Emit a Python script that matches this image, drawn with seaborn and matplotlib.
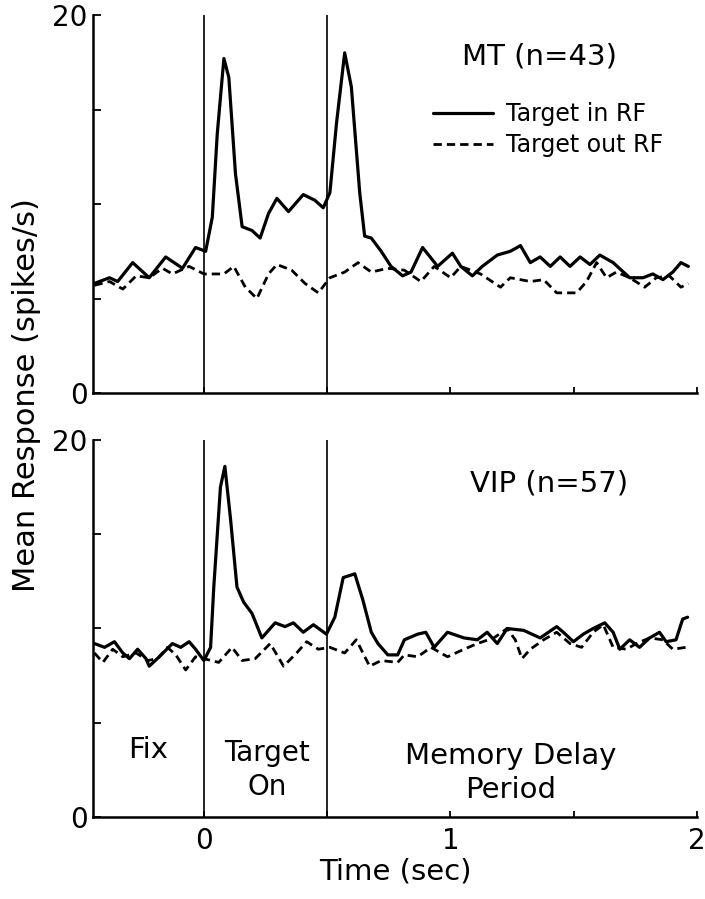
import matplotlib
matplotlib.use("Agg")
import matplotlib.pyplot as plt
import numpy as np
import pandas as pd
import seaborn as sns

# --- values (time in s, mean response in spikes/s) ---
mt_in_t = [-0.444, -0.383, -0.350, -0.289, -0.222, -0.155, -0.087, -0.034, 0.007, 0.034,
           0.054, 0.081, 0.101, 0.128, 0.155, 0.195, 0.228, 0.262, 0.296, 0.343,
           0.403, 0.450, 0.484, 0.511, 0.538, 0.571, 0.598, 0.632, 0.652, 0.679,
           0.719, 0.759, 0.806, 0.840, 0.887, 0.948, 1.008, 1.042, 1.089, 1.129,
           1.190, 1.243, 1.284, 1.324, 1.364, 1.405, 1.445, 1.485, 1.526, 1.566,
           1.606, 1.660, 1.727, 1.781, 1.821, 1.862, 1.902, 1.935, 1.965]
mt_in_v = [5.8, 6.1, 5.9, 6.9, 6.1, 7.2, 6.6, 7.7, 7.5, 9.3,
           13.7, 17.7, 16.7, 11.6, 8.8, 8.6, 8.2, 9.5, 10.3, 9.6,
           10.5, 10.2, 9.8, 10.6, 14.3, 18.0, 16.2, 10.6, 8.3, 8.2,
           7.5, 6.7, 6.2, 6.4, 7.7, 6.7, 7.4, 6.7, 6.2, 6.7,
           7.3, 7.5, 7.8, 6.9, 7.2, 6.7, 7.2, 6.7, 7.2, 6.8,
           7.3, 6.9, 6.1, 6.1, 6.3, 6.0, 6.4, 6.9, 6.7]

mt_out_t = [-0.444, -0.383, -0.329, -0.275, -0.222, -0.168, -0.128, -0.060, 0.000, 0.081,
            0.121, 0.168, 0.215, 0.262, 0.296, 0.356, 0.410, 0.464, 0.511, 0.571,
            0.625, 0.679, 0.746, 0.813, 0.880, 0.934, 1.001, 1.042, 1.122, 1.203,
            1.243, 1.324, 1.378, 1.431, 1.512, 1.552, 1.593, 1.633, 1.673, 1.727,
            1.788, 1.835, 1.888, 1.935, 1.965]
mt_out_v = [5.7, 5.9, 5.5, 6.2, 6.1, 6.6, 6.3, 6.7, 6.3, 6.3,
            6.7, 5.6, 5.0, 6.3, 6.8, 6.5, 5.8, 5.3, 6.1, 6.4,
            6.9, 6.4, 6.6, 6.5, 5.9, 6.7, 6.1, 6.7, 6.3, 5.6,
            6.1, 5.9, 6.0, 5.3, 5.3, 5.9, 6.9, 6.1, 6.4, 6.1,
            5.6, 6.1, 6.2, 5.6, 5.8]

vip_in_t = [-0.444, -0.403, -0.363, -0.329, -0.302, -0.269, -0.235, -0.222, -0.181, -0.128,
            -0.094, -0.060, -0.034, 0.000, 0.027, 0.040, 0.067, 0.085, 0.108, 0.134,
            0.161, 0.195, 0.235, 0.289, 0.329, 0.363, 0.403, 0.444, 0.497, 0.531,
            0.565, 0.612, 0.645, 0.679, 0.706, 0.746, 0.786, 0.813, 0.867, 0.900,
            0.934, 0.988, 1.055, 1.109, 1.149, 1.190, 1.230, 1.297, 1.364, 1.431,
            1.458, 1.499, 1.539, 1.579, 1.626, 1.660, 1.687, 1.727, 1.767, 1.808,
            1.848, 1.875, 1.915, 1.942, 1.962]
vip_in_v = [9.2, 9.0, 9.3, 8.7, 8.4, 8.9, 8.4, 8.0, 8.5, 9.2,
            9.0, 9.3, 8.9, 8.3, 9.0, 12.2, 17.5, 18.6, 15.8, 12.2,
            11.4, 10.8, 9.5, 10.3, 10.1, 10.3, 9.8, 10.2, 9.7, 10.6,
            12.7, 12.9, 11.5, 9.8, 9.2, 8.6, 8.6, 9.4, 9.7, 9.8,
            9.0, 9.8, 9.5, 9.4, 9.8, 9.2, 10.0, 9.9, 9.5, 10.1,
            9.8, 9.3, 9.7, 10.0, 10.3, 9.8, 8.9, 9.4, 9.0, 9.5,
            9.8, 9.3, 9.4, 10.5, 10.6]

vip_out_t = [-0.444, -0.410, -0.370, -0.329, -0.275, -0.228, -0.188, -0.148, -0.114, -0.074,
             -0.034, 0.000, 0.060, 0.114, 0.155, 0.208, 0.269, 0.323, 0.376, 0.417,
             0.464, 0.511, 0.571, 0.618, 0.672, 0.719, 0.786, 0.813, 0.867, 0.921,
             0.988, 1.055, 1.109, 1.176, 1.230, 1.263, 1.290, 1.324, 1.378, 1.431,
             1.485, 1.532, 1.579, 1.620, 1.660, 1.714, 1.754, 1.808, 1.862, 1.902,
             1.956]
vip_out_v = [8.7, 8.2, 8.9, 8.5, 8.7, 8.3, 8.4, 9.0, 8.6, 7.8,
             8.5, 8.4, 8.2, 9.0, 8.3, 8.4, 9.2, 8.0, 8.7, 9.3,
             8.9, 9.0, 8.7, 9.4, 8.0, 8.3, 8.2, 8.6, 8.5, 9.0,
             8.5, 8.9, 9.2, 9.5, 10.0, 9.4, 8.4, 8.9, 9.4, 9.8,
             9.2, 9.0, 9.8, 10.2, 9.0, 8.9, 9.2, 9.5, 9.4, 8.9,
             9.0]

event_times = [0.0, 0.5]
conditions = ["Target in RF", "Target out RF"]
panel_titles = ["MT (n=43)", "VIP (n=57)"]
epoch_labels = ["Fix", "Target\nOn", "Memory Delay\nPeriod"]

sns.set_style("ticks")
plt.rcParams["font.family"] = ["DejaVu Sans"]
for key in ["text.color", "axes.edgecolor", "axes.labelcolor", "xtick.color", "ytick.color"]:
    plt.rcParams[key] = "black"

fig = plt.figure(figsize=(7.05, 8.99), dpi=100)
ax_top = fig.add_axes([0.1319, 0.5628, 0.8567, 0.4205])
ax_bot = fig.add_axes([0.1319, 0.0912, 0.8567, 0.4194])

series = [
    (ax_top, mt_in_t, mt_in_v, mt_out_t, mt_out_v),
    (ax_bot, vip_in_t, vip_in_v, vip_out_t, vip_out_v),
]

for ax, t_in, v_in, t_out, v_out in series:
    df_in = pd.DataFrame({"time": t_in, "rate": v_in})
    df_out = pd.DataFrame({"time": t_out, "rate": v_out})
    sns.lineplot(data=df_in, x="time", y="rate", color="black", lw=2.3,
                 estimator=None, sort=False, label=conditions[0], ax=ax,
                 solid_joinstyle="round")
    sns.lineplot(data=df_out, x="time", y="rate", color="black", lw=2.0,
                 dashes=False, estimator=None, sort=False, label=conditions[1], ax=ax,
                 dash_joinstyle="round")
    ax.lines[-1].set_dashes((3, 1.8))

    # stimulus on / off markers
    for t in event_times:
        ax.axvline(t, color="black", lw=1.2)

    ax.set_xlim(-0.45, 2.0)
    ax.set_ylim(0, 20)
    ax.set_yticks([0, 5, 10, 15, 20])
    ax.set_yticklabels(["0", "", "", "", "20"])
    ax.set_xticks([0, 0.5, 1, 1.5, 2])
    ax.tick_params(direction="in", length=4, width=1.3, labelsize=20)
    ax.tick_params(axis="y", length=6, pad=4)
    ax.tick_params(axis="x", pad=7)
    ax.set_xlabel("")
    ax.set_ylabel("")
    sns.despine(ax=ax)
    for side in ["left", "bottom"]:
        ax.spines[side].set_linewidth(1.8)

ax_top.set_xticklabels([])
ax_bot.set_xticklabels(["0", "", "1", "", "2"])

# legend only in the top panel
ax_bot.get_legend().remove()
ax_top.legend(loc="upper left", bbox_to_anchor=(0.563, 0.770), frameon=False,
              fontsize=17, handlelength=2.55, handletextpad=0.55,
              labelspacing=0.3, borderpad=0, borderaxespad=0)

ax_top.text(1.363, 17.8, panel_titles[0], ha="center", va="center", fontsize=21)
ax_bot.text(1.40, 17.7, panel_titles[1], ha="center", va="center", fontsize=21)

ax_bot.text(-0.227, 3.55, epoch_labels[0], ha="center", va="center", fontsize=21)
ax_bot.text(0.256, 2.5, epoch_labels[1], ha="center", va="center", fontsize=20,
            linespacing=1.3)
ax_bot.text(1.245, 2.33, epoch_labels[2], ha="center", va="center", fontsize=21,
            linespacing=1.3)

ax_bot.set_xlabel("Time (sec)", fontsize=21, labelpad=2)
fig.text(0.038, 0.56, "Mean Response (spikes/s)", rotation=90,
         ha="center", va="center", fontsize=22)

fig.savefig("out.png", dpi=100)
